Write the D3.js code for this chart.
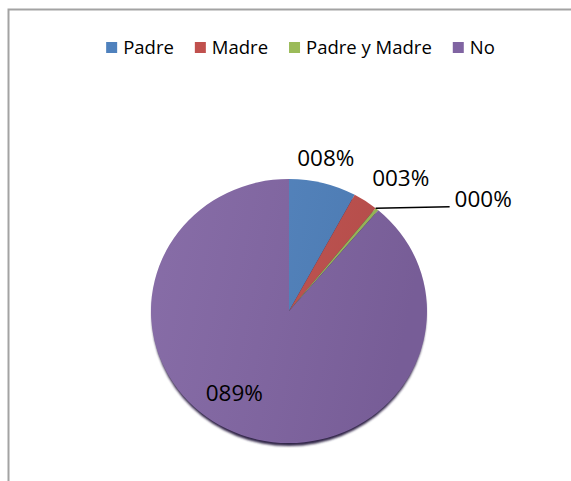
<!DOCTYPE html>
<html>
<head>
<meta charset="utf-8">
<script src="https://cdn.jsdelivr.net/npm/d3@7"></script>
<style>
  body { margin: 0; background: #fff; }
  svg { display: block; }
</style>
</head>
<body>
<svg id="chart" width="571" height="481"></svg>
<script>
const categories = ["Padre", "Madre", "Padre y Madre", "No"];
const values = [0.079, 0.029, 0.004, 0.888];
const colors = ["#4F81BD", "#C0504D", "#9BBB59", "#8064A2"];

const drawPie = function (svg) {
    let cx = 289, cy = 311;
    let radius = 138;
    let squash = 0.957; // pie is drawn a bit flatter than round
    let labelFormat = d3.format("04.0%");

    let color = d3.scaleOrdinal().domain(categories).range(colors);

    // frame around the chart area
    svg.append("rect")
        .attr("x", 8.5).attr("y", 9.5)
        .attr("width", 620).attr("height", 520)
        .style("fill", "none")
        .style("stroke", "#a3a3a3")
        .style("stroke-width", 2);

    let defs = svg.append("defs");
    let shade = defs.append("linearGradient").attr("id", "shade")
        .attr("x1", "0%").attr("x2", "100%").attr("y1", "0%").attr("y2", "20%");
    shade.append("stop").attr("offset", "0%").attr("stop-color", "#fff").attr("stop-opacity", 0.06);
    shade.append("stop").attr("offset", "100%").attr("stop-color", "#000").attr("stop-opacity", 0.07);
    defs.append("filter").attr("id", "blur")
        .append("feGaussianBlur").attr("stdDeviation", 1.2);

    // legend
    let legend = svg.append("g").attr("class", "legend");
    let x = 0;
    categories.forEach(c => {
        let item = legend.append("g").attr("transform", `translate(${x}, 0)`);
        item.append("rect")
            .attr("x", 0).attr("y", 42)
            .attr("width", 11).attr("height", 11)
            .style("fill", color(c));
        let t = item.append("text")
            .attr("x", 17).attr("y", 53.5)
            .style("font-family", "'Open Sans'")
            .style("font-size", "18.5px")
            .style("fill", "#000")
            .text(c);
        x += 17 + t.node().getComputedTextLength() + 21;
    });
    let legendWidth = x - 21;
    legend.attr("transform", `translate(${300.5 - legendWidth / 2}, 0)`);

    let pie = d3.pie().sort(null).value(d => d.value);
    let arcs = pie(categories.map((c, i) => ({name: c, value: values[i]})));
    let arc = d3.arc().innerRadius(0).outerRadius(radius);

    let g = svg.append("g").attr("transform", `translate(${cx}, ${cy}) scale(1, ${squash})`);

    // dark rim under the pie
    g.append("circle")
        .attr("cx", 0).attr("cy", 4).attr("r", radius - 1)
        .style("fill", "#33284a")
        .attr("filter", "url(#blur)");

    g.selectAll("path.slice")
        .data(arcs)
        .join("path")
        .attr("class", "slice")
        .attr("d", arc)
        .style("fill", d => color(d.data.name));

    g.append("circle")
        .attr("r", radius)
        .style("fill", "url(#shade)");

    // labels
    let labels = svg.append("g")
        .style("font-family", "'Open Sans'")
        .style("font-size", "22.5px")
        .style("fill", "#000");

    arcs.forEach(d => {
        let mid = (d.startAngle + d.endAngle) / 2;
        let s = Math.sin(mid), c = Math.cos(mid);
        if (d.data.value < 0.01) {
            // tiny slice: leader line out to the right
            let x0 = cx + radius * Math.sin(d.startAngle), y0 = cy - radius * squash * Math.cos(d.startAngle);
            let x1 = x0 + 74;
            labels.append("line")
                .attr("x1", x0).attr("y1", y0)
                .attr("x2", x1).attr("y2", y0 - 1.5)
                .style("stroke", "#000")
                .style("stroke-width", 1.5);
            labels.append("text")
                .attr("x", x1 + 5).attr("y", y0 - 1)
                .text(labelFormat(d.data.value));
        } else if (d.data.value > 0.5) {
            // big slice: label inside
            let a = mid + 0.24, r = 98;
            labels.append("text")
                .attr("x", cx + r * Math.sin(a))
                .attr("y", cy - r * Math.cos(a))
                .attr("text-anchor", "middle")
                .attr("dominant-baseline", "central")
                .text(labelFormat(d.data.value));
        } else {
            let r = 150;
            labels.append("text")
                .attr("x", cx + r * s)
                .attr("y", cy - r * c)
                .attr("text-anchor", Math.abs(s) < 0.3 ? "middle" : (s > 0 ? "start" : "end"))
                .text(labelFormat(d.data.value));
        }
    });
}

drawPie(d3.select("svg#chart"));
</script>
</body>
</html>
